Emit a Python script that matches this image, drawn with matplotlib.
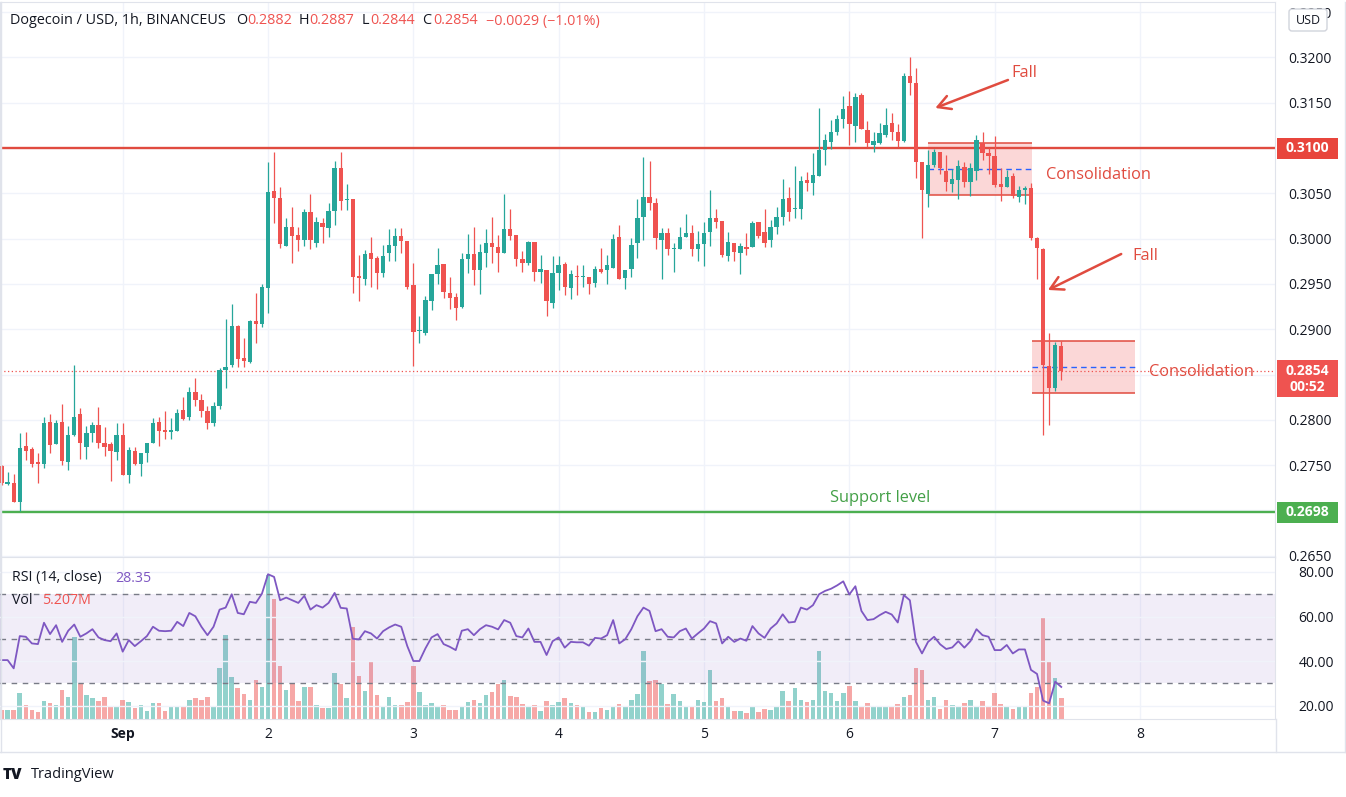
import matplotlib.pyplot as plt
import matplotlib.transforms as mtransforms
from matplotlib.patches import Rectangle, FancyBboxPatch
from matplotlib.lines import Line2D
import numpy as np

plt.rcParams['font.family'] = ['Open Sans', 'DejaVu Sans']

# Dogecoin / USD 1h candles, Aug 31 04:00 -> Sep 7 11:00 (176 bars)
opens = [
    0.2749, 0.2729, 0.2730, 0.2709, 0.2771, 0.2768, 0.2753, 0.2751, 0.2798, 0.2773,
    0.2798, 0.2753, 0.2783, 0.2806, 0.2770, 0.2785, 0.2794, 0.2774, 0.2773, 0.2765,
    0.2783, 0.2739, 0.2766, 0.2751, 0.2763, 0.2774, 0.2798, 0.2789, 0.2787, 0.2788,
    0.2811, 0.2803, 0.2831, 0.2822, 0.2810, 0.2797, 0.2815, 0.2855, 0.2860, 0.2904,
    0.2868, 0.2864, 0.2909, 0.2906, 0.2946, 0.3053, 0.3045, 0.2992, 0.3013, 0.3004,
    0.2999, 0.3029, 0.2995, 0.3017, 0.3012, 0.3030, 0.3078, 0.3043, 0.3044, 0.2959,
    0.2955, 0.2984, 0.2979, 0.2962, 0.2984, 0.2992, 0.3003, 0.2997, 0.2949, 0.2898,
    0.2896, 0.2931, 0.2961, 0.2972, 0.2940, 0.2935, 0.2925, 0.2978, 0.2983, 0.2965,
    0.2984, 0.2995, 0.2991, 0.2984, 0.3011, 0.3004, 0.2978, 0.2973, 0.2996, 0.2963,
    0.2965, 0.2929, 0.2962, 0.2972, 0.2945, 0.2959, 0.2958, 0.2958, 0.2951, 0.2966,
    0.2965, 0.2968, 0.3002, 0.2956, 0.2966, 0.2995, 0.3024, 0.3046, 0.3039, 0.2998,
    0.3006, 0.2989, 0.2989, 0.3002, 0.3006, 0.2989, 0.2994, 0.3007, 0.3023, 0.3019,
    0.2981, 0.2995, 0.2984, 0.2991, 0.2991, 0.3018, 0.3007, 0.2998, 0.3013, 0.3024,
    0.3045, 0.3033, 0.3033, 0.3065, 0.3061, 0.3069, 0.3098, 0.3107, 0.3118, 0.3132,
    0.3146, 0.3124, 0.3159, 0.3120, 0.3103, 0.3106, 0.3114, 0.3128, 0.3118, 0.3108,
    0.3179, 0.3172, 0.3085, 0.3049, 0.3081, 0.3096, 0.3075, 0.3060, 0.3065, 0.3079,
    0.3062, 0.3075, 0.3106, 0.3094, 0.3091, 0.3060, 0.3057, 0.3069, 0.3046, 0.3054,
    0.3056, 0.3001, 0.2989, 0.2859, 0.2835, 0.2882]
highs = [
    0.2750, 0.2742, 0.2740, 0.2785, 0.2787, 0.2770, 0.2763, 0.2803, 0.2806, 0.2800,
    0.2817, 0.2793, 0.2860, 0.2813, 0.2793, 0.2798, 0.2814, 0.2792, 0.2775, 0.2796,
    0.2796, 0.2770, 0.2770, 0.2763, 0.2774, 0.2802, 0.2803, 0.2810, 0.2802, 0.2812,
    0.2825, 0.2836, 0.2846, 0.2828, 0.2815, 0.2820, 0.2857, 0.2911, 0.2928, 0.2905,
    0.2890, 0.2910, 0.2940, 0.2950, 0.3084, 0.3096, 0.3057, 0.3023, 0.3035, 0.3013,
    0.3033, 0.3049, 0.3024, 0.3023, 0.3039, 0.3086, 0.3096, 0.3060, 0.3044, 0.2982,
    0.2987, 0.3002, 0.2981, 0.2993, 0.3011, 0.3012, 0.3012, 0.2997, 0.2973, 0.2915,
    0.2937, 0.2961, 0.2990, 0.2972, 0.2958, 0.2940, 0.2984, 0.3005, 0.3013, 0.2994,
    0.3011, 0.3024, 0.3004, 0.3049, 0.3033, 0.3004, 0.2986, 0.2997, 0.2996, 0.2982,
    0.2965, 0.2981, 0.2981, 0.2974, 0.2965, 0.2971, 0.2971, 0.2958, 0.2970, 0.2990,
    0.2982, 0.3005, 0.3015, 0.2965, 0.3001, 0.3044, 0.3090, 0.3086, 0.3045, 0.3012,
    0.3012, 0.2995, 0.3013, 0.3027, 0.3015, 0.3008, 0.3018, 0.3054, 0.3033, 0.3019,
    0.3007, 0.2995, 0.2995, 0.3006, 0.3019, 0.3018, 0.3033, 0.3021, 0.3035, 0.3066,
    0.3057, 0.3080, 0.3069, 0.3074, 0.3094, 0.3144, 0.3115, 0.3131, 0.3136, 0.3157,
    0.3163, 0.3161, 0.3161, 0.3130, 0.3118, 0.3128, 0.3144, 0.3139, 0.3126, 0.3183,
    0.3200, 0.3188, 0.3085, 0.3098, 0.3099, 0.3096, 0.3092, 0.3077, 0.3087, 0.3085,
    0.3083, 0.3114, 0.3118, 0.3100, 0.3113, 0.3078, 0.3076, 0.3072, 0.3058, 0.3058,
    0.3061, 0.3002, 0.2990, 0.2896, 0.2886, 0.2887]
lows = [
    0.2728, 0.2728, 0.2709, 0.2699, 0.2756, 0.2748, 0.2730, 0.2747, 0.2763, 0.2773,
    0.2750, 0.2745, 0.2782, 0.2757, 0.2757, 0.2776, 0.2769, 0.2760, 0.2733, 0.2756,
    0.2739, 0.2730, 0.2750, 0.2738, 0.2753, 0.2774, 0.2771, 0.2779, 0.2779, 0.2788,
    0.2800, 0.2800, 0.2815, 0.2803, 0.2790, 0.2793, 0.2812, 0.2835, 0.2858, 0.2858,
    0.2858, 0.2863, 0.2885, 0.2902, 0.2918, 0.3017, 0.2990, 0.2992, 0.2973, 0.2986,
    0.2992, 0.2989, 0.2991, 0.2995, 0.3002, 0.3015, 0.3032, 0.3032, 0.2940, 0.2931,
    0.2949, 0.2947, 0.2944, 0.2958, 0.2975, 0.2975, 0.2984, 0.2944, 0.2859, 0.2885,
    0.2894, 0.2921, 0.2950, 0.2934, 0.2922, 0.2910, 0.2923, 0.2962, 0.2949, 0.2939,
    0.2969, 0.2973, 0.2963, 0.2984, 0.2999, 0.2970, 0.2963, 0.2971, 0.2953, 0.2951,
    0.2915, 0.2923, 0.2943, 0.2938, 0.2933, 0.2938, 0.2947, 0.2939, 0.2947, 0.2962,
    0.2950, 0.2968, 0.2955, 0.2944, 0.2958, 0.2979, 0.2998, 0.3032, 0.2989, 0.2955,
    0.2982, 0.2963, 0.2989, 0.3002, 0.2981, 0.2975, 0.2970, 0.2992, 0.3012, 0.2980,
    0.2975, 0.2975, 0.2961, 0.2982, 0.2991, 0.3001, 0.2991, 0.2991, 0.3005, 0.3015,
    0.3019, 0.3023, 0.3022, 0.3053, 0.3048, 0.3069, 0.3081, 0.3099, 0.3114, 0.3122,
    0.3103, 0.3107, 0.3121, 0.3101, 0.3096, 0.3104, 0.3112, 0.3109, 0.3101, 0.3107,
    0.3158, 0.3067, 0.3001, 0.3035, 0.3079, 0.3071, 0.3052, 0.3051, 0.3044, 0.3057,
    0.3047, 0.3065, 0.3087, 0.3071, 0.3057, 0.3041, 0.3057, 0.3045, 0.3040, 0.3038,
    0.2998, 0.2955, 0.2783, 0.2794, 0.2832, 0.2844]
closes = [
    0.2730, 0.2731, 0.2709, 0.2769, 0.2766, 0.2751, 0.2751, 0.2796, 0.2772, 0.2796,
    0.2755, 0.2783, 0.2803, 0.2774, 0.2785, 0.2794, 0.2774, 0.2770, 0.2766, 0.2783,
    0.2739, 0.2767, 0.2751, 0.2763, 0.2774, 0.2796, 0.2788, 0.2787, 0.2789, 0.2808,
    0.2801, 0.2831, 0.2822, 0.2810, 0.2797, 0.2815, 0.2855, 0.2858, 0.2904, 0.2867,
    0.2865, 0.2909, 0.2906, 0.2947, 0.3051, 0.3045, 0.2994, 0.3013, 0.3003, 0.2999,
    0.3029, 0.2998, 0.3018, 0.3013, 0.3030, 0.3078, 0.3041, 0.3044, 0.2958, 0.2957,
    0.2983, 0.2977, 0.2962, 0.2981, 0.2993, 0.3003, 0.2997, 0.2947, 0.2897, 0.2899,
    0.2932, 0.2961, 0.2971, 0.2941, 0.2934, 0.2923, 0.2977, 0.2983, 0.2965, 0.2985,
    0.2995, 0.2991, 0.2984, 0.3011, 0.3003, 0.2977, 0.2973, 0.2996, 0.2963, 0.2966,
    0.2931, 0.2962, 0.2971, 0.2947, 0.2961, 0.2958, 0.2959, 0.2950, 0.2966, 0.2963,
    0.2971, 0.3000, 0.2955, 0.2965, 0.2993, 0.3023, 0.3046, 0.3039, 0.3001, 0.3006,
    0.2989, 0.2990, 0.3002, 0.3006, 0.2989, 0.2994, 0.3006, 0.3023, 0.3018, 0.2982,
    0.2996, 0.2985, 0.2992, 0.2989, 0.3017, 0.3003, 0.2995, 0.3013, 0.3024, 0.3044,
    0.3029, 0.3034, 0.3064, 0.3061, 0.3070, 0.3098, 0.3109, 0.3118, 0.3132, 0.3143,
    0.3126, 0.3156, 0.3121, 0.3106, 0.3108, 0.3117, 0.3125, 0.3118, 0.3108, 0.3179,
    0.3172, 0.3085, 0.3054, 0.3081, 0.3096, 0.3078, 0.3062, 0.3066, 0.3080, 0.3062,
    0.3078, 0.3109, 0.3094, 0.3091, 0.3059, 0.3057, 0.3068, 0.3047, 0.3054, 0.3056,
    0.3001, 0.2990, 0.2860, 0.2835, 0.2883, 0.2854]
# volume in millions of DOGE
volumes = [
    2.26, 2.34, 2.34, 6.54, 3.60, 2.34, 1.84, 4.60, 3.95, 3.60,
    7.37, 5.46, 20.55, 8.80, 6.11, 5.21, 4.60, 5.46, 3.34, 3.09,
    4.85, 4.35, 2.69, 3.60, 2.09, 3.95, 4.02, 2.09, 3.09, 2.94,
    3.34, 4.85, 5.21, 4.85, 5.61, 3.09, 12.75, 21.20, 10.64, 7.72,
    6.29, 4.85, 9.88, 7.97, 36.29, 30.18, 13.40, 7.37, 8.80, 4.60,
    8.12, 7.97, 3.60, 2.69, 2.69, 11.49, 8.80, 5.21, 23.06, 10.89,
    7.12, 14.41, 6.11, 3.34, 5.46, 3.60, 3.60, 4.35, 13.40, 6.87,
    3.60, 4.02, 3.34, 3.60, 2.34, 2.34, 3.19, 4.35, 4.85, 3.95,
    6.11, 6.87, 8.80, 9.88, 5.86, 5.46, 3.77, 3.34, 3.60, 2.09,
    4.60, 3.60, 4.35, 5.21, 4.02, 3.60, 3.09, 1.84, 1.84, 2.69,
    2.34, 3.34, 3.77, 3.09, 4.85, 6.29, 17.18, 9.63, 9.88, 8.80,
    3.77, 6.29, 4.60, 2.94, 3.34, 4.85, 4.35, 12.40, 4.60, 5.21,
    3.34, 2.09, 2.09, 1.51, 3.34, 1.84, 2.52, 2.34, 3.09, 7.12,
    4.60, 7.72, 4.85, 4.35, 4.85, 17.18, 7.12, 6.54, 4.60, 6.46,
    8.37, 4.60, 3.09, 4.02, 3.09, 2.94, 3.34, 3.34, 3.77, 5.46,
    6.11, 12.75, 12.40, 4.85, 5.61, 2.52, 4.85, 3.60, 3.34, 4.02,
    4.85, 2.94, 4.60, 3.09, 6.54, 3.77, 2.94, 2.52, 2.94, 3.09,
    6.54, 8.12, 25.73, 14.51, 10.24, 5.207]
rsi = [
    40.4, 40.4, 36.7, 51.2, 50.9, 47.9, 47.6, 57.2, 52.1, 56.1,
    48.6, 53.6, 56.4, 50.9, 52.4, 54.3, 50.6, 49.4, 48.9, 52.4,
    44.2, 49.4, 46.7, 48.9, 51.2, 55.4, 53.6, 53.4, 53.6, 57.6,
    55.7, 61.6, 60.1, 55.4, 51.6, 55.4, 63.1, 64.0, 70.0, 61.6,
    61.0, 66.6, 66.1, 70.3, 79.0, 77.8, 67.3, 68.5, 67.3, 66.1,
    69.3, 63.1, 65.1, 64.0, 66.1, 70.6, 63.9, 63.6, 50.0, 49.7,
    53.4, 52.4, 50.1, 53.4, 55.1, 56.4, 55.4, 46.7, 40.0, 40.0,
    45.7, 50.6, 52.1, 47.6, 46.4, 44.9, 53.6, 54.3, 51.6, 54.3,
    56.1, 55.4, 54.2, 58.4, 57.2, 51.2, 50.6, 54.6, 48.6, 48.6,
    42.7, 48.9, 50.6, 46.0, 48.6, 48.4, 48.4, 46.9, 50.4, 50.1,
    51.6, 58.4, 47.9, 49.8, 54.3, 60.1, 64.0, 62.5, 53.4, 54.3,
    50.9, 50.6, 53.4, 54.6, 50.1, 52.4, 54.6, 57.9, 56.9, 47.9,
    50.9, 48.6, 50.1, 49.1, 55.7, 52.4, 50.4, 54.6, 56.9, 61.0,
    57.3, 57.6, 64.0, 63.1, 65.1, 70.0, 71.5, 72.5, 74.0, 75.8,
    69.9, 73.6, 62.5, 58.4, 58.8, 60.6, 62.1, 60.9, 57.3, 69.6,
    67.3, 48.6, 43.4, 48.6, 50.9, 47.5, 45.4, 46.1, 48.9, 46.0,
    48.9, 54.3, 51.6, 50.9, 44.9, 44.9, 47.2, 43.4, 45.2, 45.2,
    36.0, 34.2, 22.2, 21.0, 30.7, 28.35]

day_labels = ['Sep', '2', '3', '4', '5', '6', '7', '8']
day_index = [20, 44, 68, 92, 116, 140, 164, 188]   # bar index of each midnight
price_ticks = [0.2650, 0.2700, 0.2750, 0.2800, 0.2850, 0.2900, 0.2950,
               0.3000, 0.3050, 0.3100, 0.3150, 0.3200, 0.3250]
rsi_ticks = [20, 40, 60, 80]
rsi_levels = [70, 50, 30]

resistance = 0.3100
support = 0.2698
# consolidation zones: first bar, last bar, low, high
zones = [(153.0, 170.1, 0.30481, 0.31052),
         (170.1, 187.2, 0.28300, 0.28870)]
# "Fall" arrows: tail (bar, price), head (bar, price), label (bar, price)
falls = [((166.2, 0.31751), (154.2, 0.31442), (168.9, 0.31828)),
         ((184.9, 0.29830), (172.8, 0.29433), (188.8, 0.29808))]
consol_labels = [(172.5, 0.30702), (189.5, 0.28528)]
support_label = (145.1, 0.27137)

# ---- styling ----
W, H = 1346, 797
TEAL = '#26a69a'
RED = '#ef5350'
ANN = '#e04b3f'
GREEN = '#43a047'
TXT = '#131722'
GRID = '#f0f3fa'
BORDER = '#e0e3eb'
PURPLE = '#7e57c2'

opens = np.array(opens); closes = np.array(closes)
highs = np.array(highs); lows = np.array(lows)
n = len(closes)
x = np.arange(n)
up = closes >= opens
colors = np.where(up, TEAL, RED)


def fx(px):
    return px / W


def fy(py):
    return 1 - py / H


fig = plt.figure(figsize=(W / 100, H / 100), dpi=100)
ax = fig.add_axes([0, fy(557), fx(1275), (557 - 2) / H])
ax_v = fig.add_axes([0, fy(719), fx(1275), (719 - 557) / H], sharex=ax)
ax_r = ax_v.twinx()

x_left, x_right = -0.264, 210.3
ax.set_xlim(x_left, x_right)
ax.set_ylim(0.264857, 0.326115)
ax_v.set_ylim(0, 40.7)
ax_r.set_ylim(13.94, 86.74)

# ---- price pane ----
tagged = [resistance, 0.2850, 0.2700]   # tick labels hidden under the price tags
ax.set_xticks(day_index)
ax.set_yticks(price_ticks)
ax.grid(True, color=GRID, lw=1, zorder=0)
ax.set_axisbelow(True)
ax.yaxis.tick_right()
ax.set_yticklabels(['' if any(abs(t - v) < 1e-6 for v in tagged) else '%.4f' % t
                    for t in price_ticks])
ax.tick_params(axis='y', length=0, pad=9.5, labelsize=10, labelcolor=TXT)
ax.tick_params(axis='x', length=0, labelbottom=False)
for s in ax.spines.values():
    s.set_color(BORDER)

for x0, x1, lo, hi in zones:
    ax.add_patch(Rectangle((x0, lo), x1 - x0, hi - lo, fc='#f7a8a8', alpha=0.45,
                           ec='none', zorder=1))
    ax.hlines([lo, hi], x0, x1, color=ANN, lw=1.1, zorder=2)
    ax.hlines((lo + hi) / 2, x0, x1, color='#2962ff', lw=1, ls=(0, (4, 3)), zorder=2.5)

ax.axhline(resistance, color=ANN, lw=1.7, zorder=2)
ax.axhline(support, color='#4caf50', lw=1.7, zorder=2)
ax.axhline(closes[-1], color=RED, lw=0.9, ls=(0, (1, 2)), zorder=2)

ax.vlines(x, lows, highs, color=colors, lw=0.9, zorder=3)
body_lo = np.minimum(opens, closes)
body_h = np.maximum(np.abs(closes - opens), 0.00003)
ax.bar(x, body_h, bottom=body_lo, width=0.72, color=colors, lw=0, zorder=3)

for tail, head, lab in falls:
    ax.annotate('', xy=head, xytext=tail,
                arrowprops=dict(arrowstyle='->,head_length=0.9,head_width=0.5',
                                color=ANN, lw=1.8, shrinkA=0, shrinkB=0), zorder=4)
    ax.text(lab[0], lab[1], 'Fall', color=ANN, fontsize=11.8, ha='center', va='center')
for bx, by in consol_labels:
    ax.text(bx, by, 'Consolidation', color=ANN, fontsize=11.8, ha='left', va='center')
ax.text(support_label[0], support_label[1], 'Support level', color=GREEN,
        fontsize=11.8, ha='center', va='center')

# ---- RSI / volume pane ----
ax_v.bar(x, volumes, width=0.75, color=colors, alpha=0.5, lw=0, zorder=2)
ax_v.set_xticks(day_index)
ax_v.set_xticklabels(day_labels)
ax_v.grid(True, axis='x', color=GRID, lw=1, zorder=0)
ax_v.set_axisbelow(True)
ax_v.tick_params(axis='x', length=0, pad=6, labelsize=10, labelcolor=TXT)
ax_v.tick_params(axis='y', left=False, labelleft=False)
ax_v.get_xticklabels()[0].set_fontweight('bold')
for s in ax_v.spines.values():
    s.set_color(BORDER)

ax_r.axhspan(rsi_levels[2], rsi_levels[0], color=PURPLE, alpha=0.1, lw=0, zorder=1)
for lv in rsi_levels:
    ax_r.axhline(lv, color='#787b86', lw=1, ls=(0, (4, 4)), zorder=2)
ax_r.set_yticks(rsi_ticks)
ax_r.set_yticklabels(['%.2f' % t for t in rsi_ticks])
ax_r.grid(True, axis='y', color=GRID, lw=1, zorder=0)
ax_r.plot(x, rsi, color=PURPLE, lw=1.3, zorder=3)
ax_r.tick_params(axis='y', length=0, pad=17, labelsize=10, labelcolor=TXT)
for s in ax_r.spines.values():
    s.set_visible(False)

# ---- frame pieces outside the panes ----
ident = mtransforms.IdentityTransform()
fig.add_artist(Line2D([0, W], [H - 752, H - 752], color=BORDER, lw=1, transform=ident))
fig.add_artist(Line2D([1275.5, 1275.5], [H - 752, H - 719], color=BORDER, lw=1, transform=ident))
fig.add_artist(Line2D([0.5, 0.5], [H - 752, H - 2], color=BORDER, lw=1, transform=ident))
fig.add_artist(Line2D([W - 1, W - 1], [H - 752, H - 2], color=BORDER, lw=1, transform=ident))


def price_tag(value, lines, color):
    y_val = ax.transData.transform((0, value))[1]
    h = 21 if len(lines) == 1 else 37
    top = y_val + 10.5
    fig.add_artist(Rectangle((1277, top - h), 61, h, transform=ident, fc=color,
                             ec='none', zorder=10))
    for k, s in enumerate(lines):
        fig.text(1307.5, top - 10.5 - 16 * k, s, transform=ident, ha='center',
                 va='center', color='white', fontsize=10, fontweight='bold', zorder=11)


price_tag(resistance, ['%.4f' % resistance], '#e8453c')
price_tag(closes[-1], ['%.4f' % closes[-1], '00:52'], '#ef5350')
price_tag(support, ['%.4f' % support], '#4caf50')

fig.add_artist(FancyBboxPatch((1289, H - 31), 38, 22, boxstyle='round,pad=0,rounding_size=3',
                              transform=ident, fc='white', ec='#d1d4dc', lw=1, zorder=10))
fig.text(1308, H - 20, 'USD', transform=ident, ha='center', va='center',
         color=TXT, fontsize=9, zorder=11)

# ---- header legend ----
change = closes[-1] - closes[-2]
pct = change / closes[-2] * 100
header = [('Dogecoin / USD, 1h, BINANCEUS', 10, TXT),
          ('O', 236, TXT), ('%.4f' % opens[-1], 247, RED),
          ('H', 299, TXT), ('%.4f' % highs[-1], 309, RED),
          ('L', 362, TXT), ('%.4f' % lows[-1], 370, RED),
          ('C', 422, TXT), ('%.4f' % closes[-1], 433, RED),
          (('%.4f (%.2f%%)' % (change, pct)).replace('-', '\u2212'), 486, RED)]
for s, px, c in header:
    fig.text(fx(px), fy(21), s, color=c, fontsize=10.4, ha='left', va='center')

fig.text(fx(12), fy(578), 'RSI (14, close)', color=TXT, fontsize=10.2, ha='left', va='center')
fig.text(fx(115), fy(578), '%.2f' % rsi[-1], color=PURPLE, fontsize=10.2, ha='left', va='center')
fig.text(fx(12), fy(600), 'Vol', color=TXT, fontsize=10.2, ha='left', va='center')
fig.text(fx(42), fy(600), '%.3fM' % volumes[-1], color=RED, fontsize=10.2, ha='left', va='center')

fig.text(fx(3), fy(775), 'TV', color=TXT, fontsize=11, fontweight='heavy', ha='left', va='center')
fig.text(fx(31), fy(775), 'TradingView', color=TXT, fontsize=10.5, ha='left', va='center')

fig.savefig('out.png', dpi=100, facecolor='white')
